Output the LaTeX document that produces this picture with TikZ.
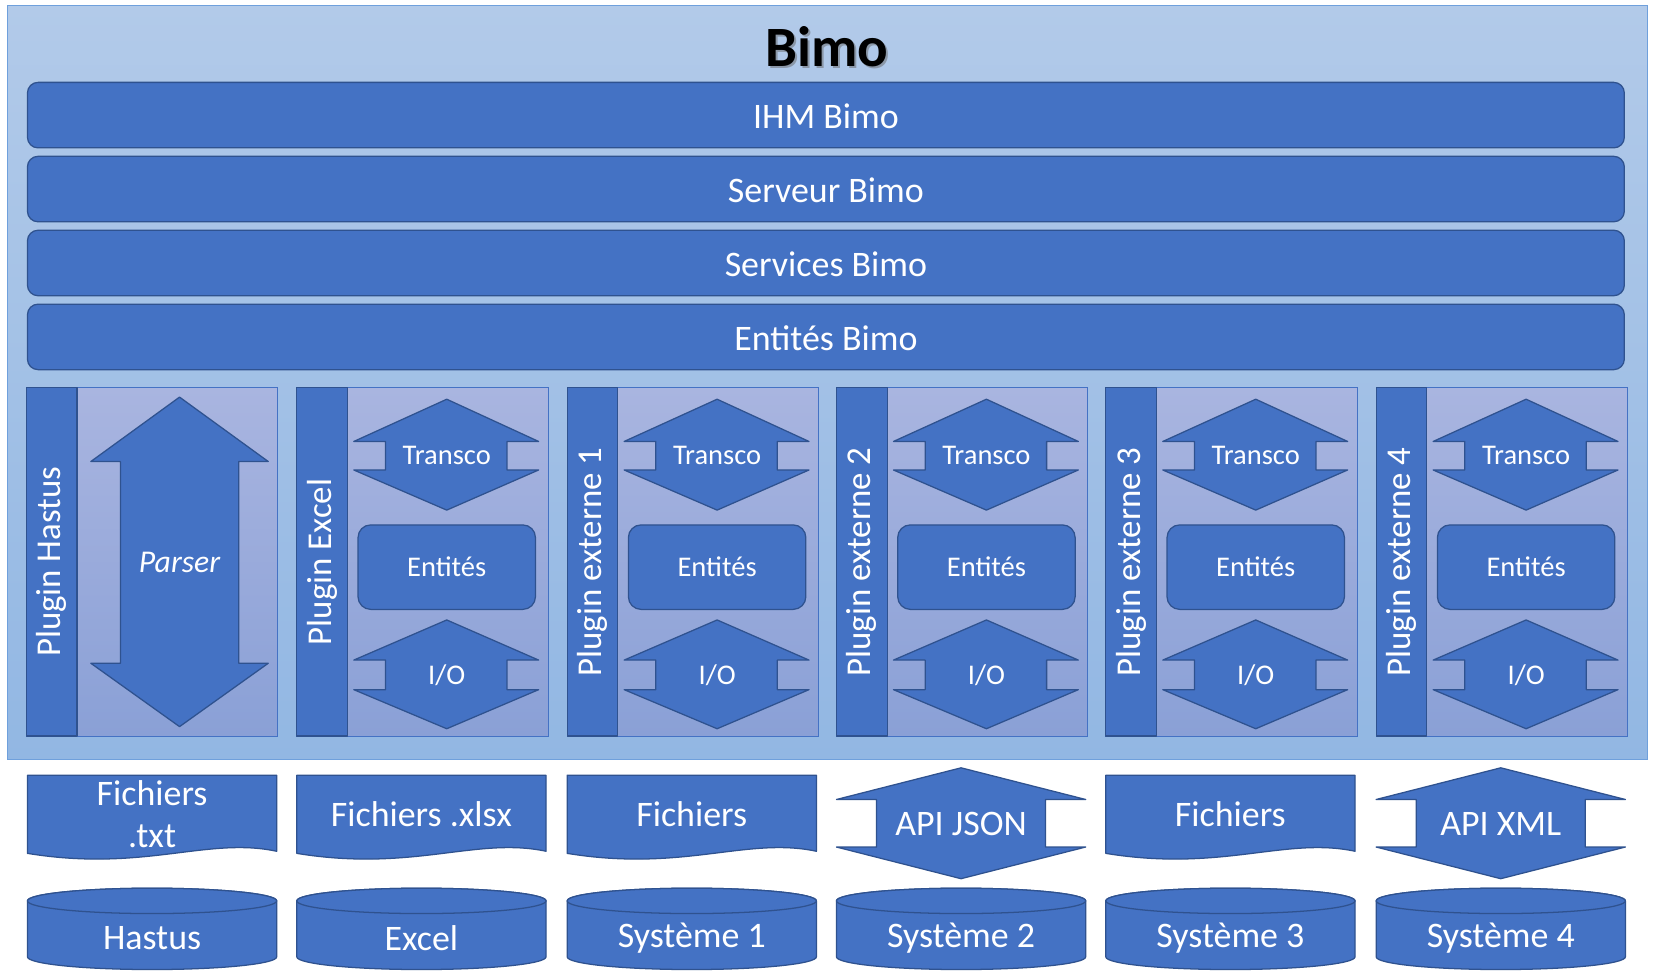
\documentclass[tikz,border=0pt]{standalone}
\usepackage{fontspec}
\setmainfont{Carlito}
\definecolor{bl}{HTML}{4472C4}
\definecolor{bd}{HTML}{2F528F}
\definecolor{otop}{HTML}{B2CAE9}
\definecolor{obot}{HTML}{92B7E3}
\definecolor{otl}{HTML}{6FA0DC}
\definecolor{ctop}{HTML}{A9B5E0}
\definecolor{cbot}{HTML}{8AA0D6}
\begin{document}
\begin{tikzpicture}[x=1pt,y=-1pt,
  sh/.style={fill=bl,draw=bd,line width=1.2pt,line join=round},
  txt/.style={text=white,font=\fontsize{34}{34}\selectfont},
  small/.style={text=white,font=\fontsize{27}{27}\selectfont}]
\useasboundingbox (0,0) rectangle (1568,927);
\fill[white] (0,0) rectangle (1568,927);
% outer
\shade[top color=otop,bottom color=obot,draw=otl,line width=1pt] (7,5) rectangle (1560,719);
\node[font=\bfseries\fontsize{54}{54}\selectfont,text=black!60,opacity=0.5] at (785,46) {Bimo};
\node (title) [font=\bfseries\fontsize{54}{54}\selectfont] at (783,44) {Bimo};
% bars
\foreach \y/\t/\n in {78/IHM Bimo/ihm,148/Serveur Bimo/srv,218/Services Bimo/svc,288/Entités Bimo/ent}{
  \draw[sh,rounded corners=10pt] (26,\y) rectangle (1538,\y+62);
  \node (\n) [txt] at (782,\y+32) {\t};
}
% plugin columns
\foreach \x/\t/\n [count=\i] in {25/Plugin Hastus/ph,281/Plugin Excel/pe,537/Plugin externe 1/p1,792/Plugin externe 2/p2,1047/Plugin externe 3/p3,1303/Plugin externe 4/p4}{
  \shade[top color=ctop,bottom color=cbot,draw=bl,line width=0.8pt] (\x,367) rectangle (\x+238,697);
  \draw[sh] (\x,367) rectangle (\x+48,697);
  \node (\n) [txt,rotate=90,font=\fontsize{33}{33}\selectfont] at (\x+24,532) {\t};
}
% Hastus parser arrow
\draw[sh] (170,376) -- (254,437) -- (226,437) -- (226,628) -- (254,628) -- (170,688) -- (86,628) -- (114,628) -- (114,437) -- (86,437) -- cycle;
\node (parser) [txt,font=\itshape\fontsize{30}{30}\selectfont] at (170,533) {Parser};
% other columns
\foreach \x/\n in {281/e,537/a,792/b,1047/c,1303/d}{
  \draw[sh] (\x+142,378) -- (\x+229,418) -- (\x+199,418) -- (\x+199,445) -- (\x+229,445) -- (\x+142,483) -- (\x+54,445) -- (\x+84,445) -- (\x+84,418) -- (\x+54,418) -- cycle;
  \node (tr\n) [small] at (\x+142,431) {Transco};
  \draw[sh,rounded corners=12pt] (\x+58,497) rectangle (\x+226,577);
  \node (en\n) [small] at (\x+142,537) {Entités};
  \draw[sh] (\x+142,587) -- (\x+229,625) -- (\x+199,625) -- (\x+199,653) -- (\x+229,653) -- (\x+142,690) -- (\x+54,653) -- (\x+84,653) -- (\x+84,625) -- (\x+54,625) -- cycle;
  \node (io\n) [small] at (\x+142,639) {I/O};
}
% bottom documents
\foreach \x/\n in {26/d1,281/d2,537/d3,1047/d5}{
  \draw[sh] (\x,734) -- (\x+236,734) -- (\x+236,806) .. controls (\x+170,792) and (\x+110,826) .. (\x,808) -- cycle;
}
\node (f1) [txt,align=center,font=\fontsize{34}{40}\selectfont] at (144,771) {Fichiers\\.txt};
\node (f2) [txt] at (399,771) {Fichiers .xlsx};
\node (f3) [txt] at (655,771) {Fichiers};
\node (f5) [txt] at (1165,771) {Fichiers};
% API arrows
\foreach \x/\t/\n in {792/API JSON/aj,1303/API XML/ax}{
  \draw[sh] (\x+118,727) -- (\x+236,757) -- (\x+198,757) -- (\x+198,802) -- (\x+236,802) -- (\x+118,832) -- (\x,802) -- (\x+38,802) -- (\x+38,757) -- (\x,757) -- cycle;
  \node (\n) [txt] at (\x+118,780) {\t};
}
% cylinders
\foreach \x/\t/\n in {26/Hastus/hs,281/Excel/ex,537/Système 1/s1,792/Système 2/s2,1047/Système 3/s3,1303/Système 4/s4}{
  \draw[sh] (\x,853) -- (\x,906) arc[start angle=180,end angle=0,x radius=118,y radius=12] -- (\x+236,853) arc[start angle=0,end angle=-180,x radius=118,y radius=12] -- cycle;
  \draw[sh] (\x+118,853) ellipse[x radius=118,y radius=12];
  \node (\n) [txt] at (\x+118,888) {\t};
}
\end{tikzpicture}
\end{document}
